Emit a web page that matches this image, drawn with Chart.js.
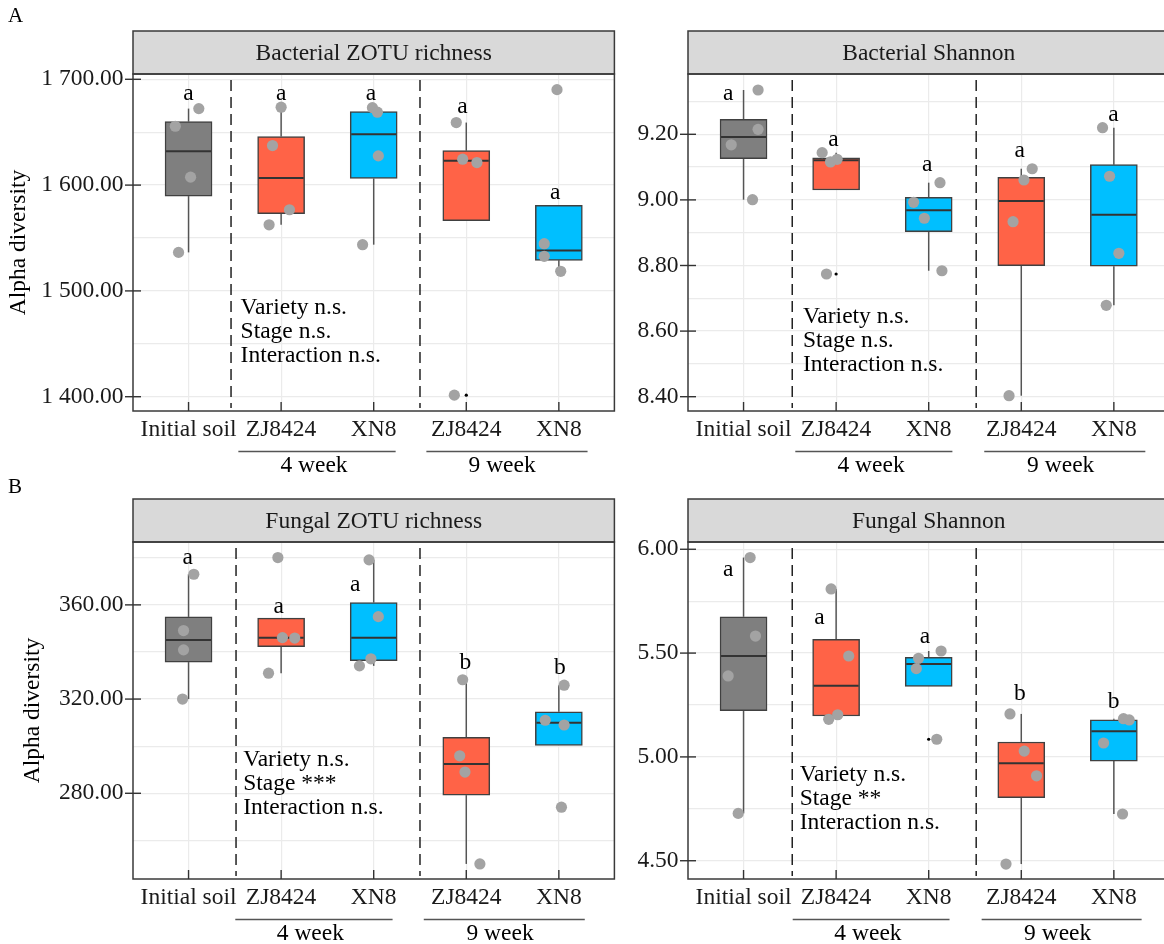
<!DOCTYPE html>
<html>
<head>
<meta charset="utf-8">
<script src="https://cdn.jsdelivr.net/npm/chart.js@4.4.1/dist/chart.umd.min.js"></script>
<style>
  html, body { margin: 0; padding: 0; background: #fff; overflow: hidden; width: 1164px; height: 944px; }
  #wrap { position: relative; width: 1164px; height: 944px; overflow: hidden; background: #fff; }
  canvas { position: absolute; }
</style>
</head>
<body>
<div id="wrap">
  <canvas id="c1" width="620" height="480" style="left:0px;top:0px"></canvas>
  <canvas id="c2" width="575" height="480" style="left:600px;top:0px"></canvas>
  <canvas id="c3" width="620" height="476" style="left:0px;top:468px"></canvas>
  <canvas id="c4" width="575" height="476" style="left:600px;top:468px"></canvas>
</div>
<script>
// ---- categories ----
const groups = ['Initial soil', 'ZJ8424', 'XN8', 'ZJ8424', 'XN8'];
const stages = ['4 week', '9 week'];
const boxFills = ['#7f7f7f', '#ff6347', '#00bfff', '#ff6347', '#00bfff'];
const noteNS = ['Variety n.s.', 'Stage n.s.', 'Interaction n.s.'];
const noteFungalRich = ['Variety n.s.', 'Stage ***', 'Interaction n.s.'];
const noteFungalShan = ['Variety n.s.', 'Stage **', 'Interaction n.s.'];

// ---- Bacterial ZOTU richness ----
const bacRichSamples = [
  [1655.6, 1672.3, 1607.5, 1536.4],
  [1673.6, 1637.4, 1576.7, 1562.5],
  [1673.2, 1668.9, 1627.6, 1543.7],
  [1659.1, 1624.5, 1621.3, 1401.5],
  [1690.2, 1544.6, 1532.7, 1518.5]
];
const bacRichJitter = [
  [-0.143, 0.111, 0.022, -0.108],
  [0.0, -0.093, 0.09, -0.13],
  [-0.014, 0.04, 0.05, -0.12],
  [-0.108, -0.039, 0.115, -0.129],
  [-0.02, -0.158, -0.158, 0.02]
];
const bacRichLow = [1536.4, 1562.5, 1543.7, 1621.3, 1518.5];
const bacRichQ1 = [1589.6, 1572.9, 1606.2, 1566.3, 1528.9];
const bacRichMedian = [1632.0, 1606.6, 1648.0, 1622.9, 1538.3];
const bacRichQ3 = [1660.0, 1645.9, 1669.5, 1632.6, 1580.8];
const bacRichHigh = [1672.3, 1673.6, 1673.2, 1659.1, 1544.6];
const bacRichOutliers = [[], [], [], [1401.5], [1690.2]];
const bacRichLetters = ['a', 'a', 'a', 'a', 'a'];
const bacRichLetterY = [1680.5, 1680.5, 1680.5, 1667.9, 1587.0];
const bacRichMajor = [1400, 1500, 1600, 1700];
const bacRichMinor = [1450, 1550, 1650];

// ---- Bacterial Shannon ----
const bacShanSamples = [
  [9.335, 9.215, 9.168, 9.0006],
  [9.144, 9.1156, 9.1238, 8.774],
  [9.0525, 8.9927, 8.944, 8.784],
  [9.095, 9.0607, 8.9335, 8.403],
  [9.2201, 9.072, 8.8372, 8.6787]
];
const bacShanJitter = [
  [0.157, 0.157, -0.133, 0.097],
  [-0.151, -0.061, 0.011, -0.104],
  [0.122, -0.163, -0.047, 0.143],
  [0.118, 0.029, -0.089, -0.132],
  [-0.122, -0.046, 0.054, -0.082]
];
const bacShanLow = [9.0006, 9.1156, 8.784, 8.403, 8.6787];
const bacShanQ1 = [9.1256, 9.0302, 8.903, 8.7994, 8.7976];
const bacShanMedian = [9.1918, 9.121, 8.9683, 8.9967, 8.9549];
const bacShanQ3 = [9.2457, 9.128, 9.0079, 9.0689, 9.1073];
const bacShanHigh = [9.335, 9.144, 9.0525, 9.095, 9.2201];
const bacShanOutliers = [[], [8.774], [], [], []];
const bacShanLetters = ['a', 'a', 'a', 'a', 'a'];
const bacShanLetterY = [9.3046, 9.1643, 9.0881, 9.1299, 9.2415];
const bacShanMajor = [8.4, 8.6, 8.8, 9.0, 9.2];
const bacShanMinor = [8.5, 8.7, 8.9, 9.1, 9.3];

// ---- Fungal ZOTU richness ----
const funRichSamples = [
  [373.0, 349.1, 340.9, 320.0],
  [380.1, 346.1, 345.9, 331.0],
  [379.1, 355.0, 337.1, 334.1],
  [328.2, 295.9, 289.0, 250.0],
  [325.9, 311.0, 309.0, 274.1]
];
const funRichJitter = [
  [0.057, -0.054, -0.054, -0.065],
  [-0.035, 0.014, 0.147, -0.136],
  [-0.05, 0.05, -0.03, -0.154],
  [-0.039, -0.071, -0.014, 0.147],
  [0.057, -0.147, 0.057, 0.028]
];
const funRichLow = [320.0, 331.0, 334.1, 250.0, 309.0];
const funRichQ1 = [335.7, 342.3, 336.3, 279.2, 300.3];
const funRichMedian = [345.1, 346.0, 346.0, 292.4, 310.0];
const funRichQ3 = [354.9, 354.4, 361.0, 303.8, 314.6];
const funRichHigh = [373.0, 346.1, 379.1, 328.2, 325.9];
const funRichOutliers = [[], [380.1], [], [], [274.1]];
const funRichLetters = ['a', 'a', 'a', 'b', 'b'];
const funRichLetterY = [377.4, 356.5, 366.1, 332.8, 330.6];
const funRichMajor = [280, 320, 360];
const funRichMinor = [260, 300, 340, 380];

// ---- Fungal Shannon ----
const funShanSamples = [
  [5.960, 5.582, 5.390, 4.728],
  [5.809, 5.486, 5.203, 5.181],
  [5.510, 5.475, 5.425, 5.085],
  [5.207, 5.028, 4.909, 4.484],
  [5.184, 5.178, 5.067, 4.725]
];
const funShanJitter = [
  [0.071, 0.129, -0.166, -0.058],
  [-0.054, 0.136, 0.017, -0.08],
  [0.134, -0.11, -0.134, 0.087],
  [-0.122, 0.032, 0.165, -0.165],
  [0.104, 0.166, -0.111, 0.094]
];
const funShanLow = [4.728, 5.181, 5.425, 4.484, 4.725];
const funShanQ1 = [5.223, 5.197, 5.340, 4.804, 4.980];
const funShanMedian = [5.486, 5.343, 5.4475, 4.969, 5.123];
const funShanQ3 = [5.675, 5.5665, 5.480, 5.072, 5.179];
const funShanHigh = [5.960, 5.809, 5.510, 5.207, 5.184];
const funShanOutliers = [[], [], [5.085], [], []];
const funShanLetters = ['a', 'a', 'a', 'b', 'b'];
const funShanLetterY = [5.873, 5.640, 5.550, 5.274, 5.234];
const funShanMajor = [4.5, 5.0, 5.5, 6.0];
const funShanMinor = [4.75, 5.25, 5.75];

// ---- drawing ----
const FAMILY = '"Liberation Serif", "Times New Roman", serif';
const FONT = '23.5px ' + FAMILY;
Chart.defaults.font.family = FAMILY;
Chart.defaults.font.size = 23.5;
Chart.defaults.color = '#000';
Chart.defaults.animation = false;

const STRIP_TOP = 31;
const PLOT_BOTTOM = 411;

function fmt(v) {
  const parts = v.toFixed(2).split('.');
  return parts[0].replace(/\B(?=(\d{3})+(?!\d))/g, ' ') + '.' + parts[1];
}

function makePanel(p) {
  const el = document.getElementById(p.canvas);
  const H = el.height;
  const boxData = groups.map((g, i) => ({ x: i, y: [p.q1[i], p.q3[i]] }));
  const samplePts = [];
  p.samples.forEach((vals, i) => vals.forEach((v, j) => samplePts.push({ x: i + p.jitter[i][j], y: v })));
  const outlierPts = [];
  p.outliers.forEach((vals, i) => vals.forEach(v => outlierPts.push({ x: i, y: v })));
  const gridValues = p.major.concat(p.minor).sort((a, b) => a - b);
  const isMajor = v => p.major.some(m => Math.abs(m - v) < 1e-9);

  function seg(ctx, x1, y1, x2, y2) {
    ctx.beginPath(); ctx.moveTo(x1, y1); ctx.lineTo(x2, y2); ctx.stroke();
  }

  const decor = {
    id: 'decor',
    beforeDatasetsDraw(chart) {
      const { ctx, chartArea: a, scales: { x, y } } = chart;
      ctx.save();
      // facet strip
      ctx.fillStyle = '#d9d9d9';
      ctx.fillRect(a.left, STRIP_TOP, a.right - a.left, a.top - STRIP_TOP);
      ctx.strokeStyle = '#3a3a3a';
      ctx.lineWidth = 1.5;
      ctx.strokeRect(a.left, STRIP_TOP, a.right - a.left, a.top - STRIP_TOP);
      ctx.fillStyle = '#1a1a1a';
      ctx.font = FONT;
      ctx.textAlign = 'center';
      ctx.textBaseline = 'middle';
      ctx.fillText(p.title, (a.left + a.right) / 2, (STRIP_TOP + a.top) / 2 + 1);
      // panel frame
      ctx.strokeRect(a.left, a.top, a.right - a.left, a.bottom - a.top);
      // axis ticks
      ctx.strokeStyle = '#333';
      ctx.lineWidth = 1.4;
      p.major.forEach(v => {
        const py = y.getPixelForValue(v);
        seg(ctx, a.left - 8, py, a.left + 8, py);
      });
      groups.forEach((g, i) => {
        const px = x.getPixelForValue(i);
        seg(ctx, px, a.bottom, px, a.bottom - 9);
      });
      // stage dividers
      ctx.setLineDash([11, 6]);
      ctx.strokeStyle = '#222';
      ctx.lineWidth = 1.5;
      p.dividers.forEach(d => {
        const px = x.getPixelForValue(d);
        seg(ctx, px, a.top + 6, px, a.bottom - 3);
      });
      ctx.setLineDash([]);
      // whiskers
      ctx.strokeStyle = '#555';
      ctx.lineWidth = 1.5;
      groups.forEach((g, i) => {
        const px = x.getPixelForValue(i);
        if (p.low[i] < p.q1[i]) seg(ctx, px, y.getPixelForValue(p.low[i]), px, y.getPixelForValue(p.q1[i]));
        if (p.high[i] > p.q3[i]) seg(ctx, px, y.getPixelForValue(p.q3[i]), px, y.getPixelForValue(p.high[i]));
      });
      ctx.restore();
    },
    afterDatasetDraw(chart, args) {
      if (args.index !== 0) return;
      const { ctx, scales: { y } } = chart;
      ctx.save();
      ctx.strokeStyle = '#333';
      ctx.lineWidth = 2;
      args.meta.data.forEach((bar, i) => {
        const py = y.getPixelForValue(p.median[i]);
        seg(ctx, bar.x - bar.width / 2 + 1, py, bar.x + bar.width / 2 - 1, py);
      });
      ctx.restore();
    },
    afterDatasetsDraw(chart) {
      const { ctx, chartArea: a, scales: { x, y } } = chart;
      ctx.save();
      ctx.fillStyle = '#000';
      ctx.font = FONT;
      // group letters
      ctx.textAlign = 'center';
      ctx.textBaseline = 'alphabetic';
      p.letters.forEach((t, i) => {
        ctx.fillText(t, x.getPixelForValue(p.letterX[i]), y.getPixelForValue(p.letterY[i]));
      });
      // test results
      ctx.textAlign = 'left';
      ctx.textBaseline = 'middle';
      const nx = x.getPixelForValue(p.noteX);
      const ny = y.getPixelForValue(p.noteY);
      p.note.forEach((t, k) => ctx.fillText(t, nx, ny + k * 24));
      // stage brackets
      ctx.strokeStyle = '#555';
      ctx.lineWidth = 1.5;
      ctx.textAlign = 'center';
      stages.forEach((s, k) => {
        const r = p.stageLines[k];
        seg(ctx, x.getPixelForValue(r[0]), 451.5, x.getPixelForValue(r[1]), 451.5);
        ctx.fillText(s, x.getPixelForValue(p.stageLabelX[k]), 465.5);
      });
      // panel tag
      if (p.tag) {
        ctx.font = '21px ' + FAMILY;
        ctx.textAlign = 'left';
        ctx.textBaseline = 'alphabetic';
        ctx.fillText(p.tag, 8, p.tagY);
      }
      ctx.restore();
    }
  };

  return new Chart(el, {
    type: 'bar',
    data: {
      datasets: [
        {
          type: 'bar', data: boxData, backgroundColor: boxFills,
          borderColor: '#404040', borderWidth: 1.5, borderSkipped: false,
          barThickness: 47, order: 3
        },
        {
          type: 'scatter', data: outlierPts, pointRadius: 1.6,
          backgroundColor: '#000', borderWidth: 0, order: 2
        },
        {
          type: 'scatter', data: samplePts, pointRadius: 5.6,
          backgroundColor: '#a3a3a3', borderWidth: 0, order: 1
        }
      ]
    },
    options: {
      responsive: false,
      devicePixelRatio: 1,
      events: [],
      layout: { padding: { top: 74, left: 0, right: 3, bottom: 0 } },
      plugins: { legend: { display: false }, tooltip: { enabled: false } },
      scales: {
        x: {
          type: 'linear', min: -0.6, max: 4.6, offset: false,
          afterBuildTicks: ax => { ax.ticks = groups.map((g, i) => ({ value: i })); },
          afterFit: ax => { ax.height = H - PLOT_BOTTOM; },
          ticks: {
            callback: v => groups[Math.round(v)], padding: 5,
            autoSkip: false, maxRotation: 0, minRotation: 0, color: '#1a1a1a'
          },
          grid: { color: '#ebebeb', lineWidth: 1.2, drawTicks: false, offset: false },
          border: { display: false }
        },
        y: {
          type: 'linear', min: p.yMin, max: p.yMax,
          afterBuildTicks: ax => { ax.ticks = gridValues.map(v => ({ value: v })); },
          afterFit: ax => { ax.width = p.axisWidth; },
          ticks: {
            callback: v => (isMajor(v) ? fmt(v) : ''), padding: 9.5,
            autoSkip: false, color: '#1a1a1a'
          },
          grid: { color: '#ebebeb', lineWidth: 1.2, drawTicks: false },
          border: { display: false },
          title: {
            display: !!p.yTitle, text: p.yTitle || '', color: '#000',
            padding: { top: p.titlePad || 0, bottom: 0 }
          }
        }
      }
    },
    plugins: [decor]
  });
}

makePanel({
  canvas: 'c1', title: 'Bacterial ZOTU richness', tag: 'A', tagY: 22,
  yTitle: 'Alpha diversity', titlePad: 5, axisWidth: 133,
  yMin: 1386.5, yMax: 1705,
  samples: bacRichSamples, jitter: bacRichJitter,
  low: bacRichLow, q1: bacRichQ1, median: bacRichMedian, q3: bacRichQ3, high: bacRichHigh,
  outliers: bacRichOutliers, letters: bacRichLetters, letterY: bacRichLetterY,
  letterX: [0, 1, 1.97, 2.96, 3.96],
  major: bacRichMajor, minor: bacRichMinor,
  dividers: [0.459, 2.5],
  note: noteNS, noteX: 0.562, noteY: 1484,
  stageLines: [[0.538, 2.237], [2.569, 4.31]], stageLabelX: [1.355, 3.387]
});

makePanel({
  canvas: 'c2', title: 'Bacterial Shannon', axisWidth: 88,
  yMin: 8.3564, yMax: 9.3838,
  samples: bacShanSamples, jitter: bacShanJitter,
  low: bacShanLow, q1: bacShanQ1, median: bacShanMedian, q3: bacShanQ3, high: bacShanHigh,
  outliers: bacShanOutliers, letters: bacShanLetters, letterY: bacShanLetterY,
  letterX: [-0.166, 0.971, 1.985, 2.982, 3.997],
  major: bacShanMajor, minor: bacShanMinor,
  dividers: [0.526, 2.513],
  note: noteNS, noteX: 0.642, noteY: 8.644,
  stageLines: [[0.559, 2.256], [2.6, 4.34]], stageLabelX: [1.377, 3.426]
});

makePanel({
  canvas: 'c3', title: 'Fungal ZOTU richness', tag: 'B', tagY: 25,
  yTitle: 'Alpha diversity', titlePad: 19, axisWidth: 133,
  yMin: 243.6, yMax: 386.7,
  samples: funRichSamples, jitter: funRichJitter,
  low: funRichLow, q1: funRichQ1, median: funRichMedian, q3: funRichQ3, high: funRichHigh,
  outliers: funRichOutliers, letters: funRichLetters, letterY: funRichLetterY,
  letterX: [-0.01, 0.975, 1.8, 2.99, 4.01],
  major: funRichMajor, minor: funRichMinor,
  dividers: [0.513, 2.5],
  note: noteFungalRich, noteX: 0.591, noteY: 294.2,
  stageLines: [[0.505, 2.204], [2.541, 4.28]], stageLabelX: [1.316, 3.365]
});

makePanel({
  canvas: 'c4', title: 'Fungal Shannon', axisWidth: 88,
  yMin: 4.412, yMax: 6.035,
  samples: funShanSamples, jitter: funShanJitter,
  low: funShanLow, q1: funShanQ1, median: funShanMedian, q3: funShanQ3, high: funShanHigh,
  outliers: funShanOutliers, letters: funShanLetters, letterY: funShanLetterY,
  letterX: [-0.166, 0.82, 1.96, 2.985, 3.997],
  major: funShanMajor, minor: funShanMinor,
  dividers: [0.526, 2.513],
  note: noteFungalShan, noteX: 0.606, noteY: 4.913,
  stageLines: [[0.531, 2.225], [2.572, 4.3]], stageLabelX: [1.344, 3.393]
});
</script>
</body>
</html>
